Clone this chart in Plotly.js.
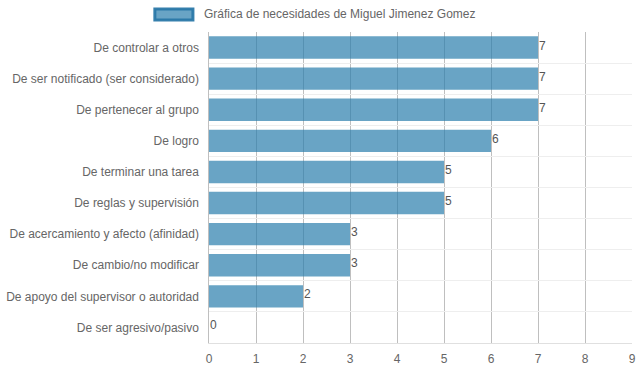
<!DOCTYPE html>
<html><head><meta charset="utf-8">
<script src="https://cdn.plot.ly/plotly-3.0.1.min.js"></script>
<style>html,body{margin:0;padding:0;background:#fff}#c{width:639px;height:372px}</style>
</head><body><div id="c"></div>
<script>
const categories = [
  "De controlar a otros",
  "De ser notificado (ser considerado)",
  "De pertenecer al grupo",
  "De logro",
  "De terminar una tarea",
  "De reglas y supervisión",
  "De acercamiento y afecto (afinidad)",
  "De cambio/no modificar",
  "De apoyo del supervisor o autoridad",
  "De ser agresivo/pasivo"
];
const values = [7, 7, 7, 6, 5, 5, 3, 3, 2, 0];
const seriesName = "Gráfica de necesidades de Miguel Jimenez Gomez";
const xTicks = [0,1,2,3,4,5,6,7,8,9];

const font = {family: "Liberation Sans, Arial, sans-serif", size: 12, color: "#666"};
const barColor = "rgba(42,126,172,0.7)";

const valueLabels = values.map((v, i) => ({
  x: v, y: categories[i], xref: "x", yref: "y",
  text: String(v), showarrow: false, xanchor: "left", yanchor: "middle",
  xshift: -1, yshift: 2,
  font: {family: font.family, size: 12, color: "#555"}
}));

Plotly.newPlot("c", [{
  type: "bar",
  orientation: "h",
  y: categories,
  x: values,
  name: seriesName,
  marker: {color: barColor, line: {width: 0}},
  hoverinfo: "none",
  showlegend: false
}], {
  width: 639, height: 372,
  margin: {l: 209, r: 7, t: 32, b: 29},
  paper_bgcolor: "#fff", plot_bgcolor: "#fff",
  font: font,
  bargap: 0.28,
  xaxis: {
    range: [0, 9], tickvals: xTicks, ticktext: xTicks.map(String),
    showgrid: true, gridcolor: "rgba(0,0,0,0.25)", gridwidth: 1,
    zeroline: false, showline: true, linecolor: "rgba(0,0,0,0.12)",
    ticks: "outside", ticklen: 5, tickcolor: "rgba(0,0,0,0)", tickfont: font, fixedrange: true
  },
  yaxis: {
    type: "category", autorange: "reversed",
    tickson: "boundaries", showgrid: true, gridcolor: "#eee", gridwidth: 1,
    ticks: "", showline: true, linecolor: "rgba(0,0,0,0.25)",
    tickfont: font, ticksuffix: "  ", zeroline: false, fixedrange: true
  },
  shapes: [{
    type: "rect", xref: "paper", yref: "paper",
    x0: -0.128, x1: -0.038, y0: 1.0386, y1: 1.074,
    fillcolor: barColor, line: {color: "rgba(42,120,168,0.95)", width: 3}
  }],
  annotations: valueLabels.concat([{
    xref: "paper", yref: "paper", x: -0.0165, y: 1.058,
    xanchor: "left", yanchor: "middle", showarrow: false,
    text: seriesName, font: {family: font.family, size: 12, color: "#666"}
  }])
}, {displayModeBar: false, staticPlot: true});
</script></body></html>
